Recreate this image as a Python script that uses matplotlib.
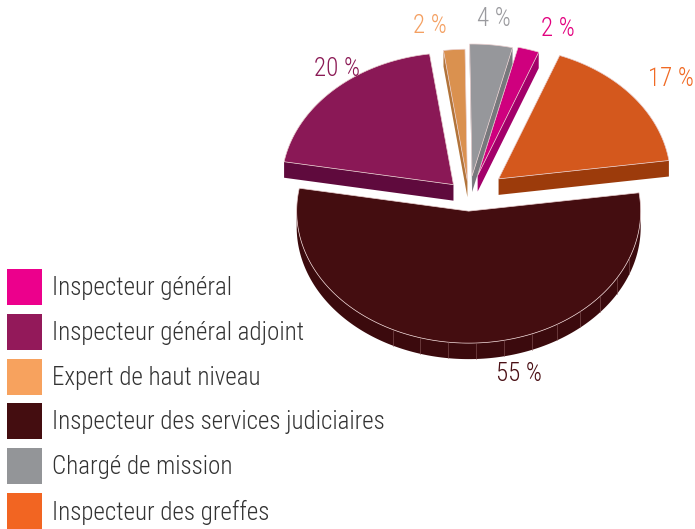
import numpy as np
import matplotlib.pyplot as plt
from matplotlib.patches import Polygon, Rectangle

plt.rcParams['font.family'] = ['Roboto Condensed', 'DejaVu Sans']
plt.rcParams['font.weight'] = 'light'

# data
labels = ['Inspecteur général', 'Inspecteur général adjoint', 'Expert de haut niveau',
          'Inspecteur des services judiciaires', 'Chargé de mission', 'Inspecteur des greffes']
shares = [2, 20, 2, 55, 4, 17]
pct_text = ['2 %', '20 %', '2 %', '55 %', '4 %', '17 %']
legend_colors = ['#EC008C', '#93195A', '#F7A25E', '#440D10', '#939598', '#F26522']
top_colors = ['#CF007E', '#8A1856', '#DA914F', '#440D10', '#96979B', '#D4581D']
side_colors = ['#A3006A', '#5F0A3D', '#B2743A', '#3B0A0D', '#77787C', '#9C3B0B']
label_colors = ['#E2007F', '#8B1A55', '#F4A062', '#4A1015', '#9A9A9E', '#F06A24']

# counterclockwise order around the pie
pie_order = [5, 0, 4, 2, 1, 3]
explode = {5: 0.22, 0: 0.17, 4: 0.16, 2: 0.12, 1: 0.13, 3: 0.107}
label_nudge = {5: (11, -1), 0: (19, 5), 4: (-1, 0), 2: (-22, 3), 1: (27, -2), 3: (54, 5)}

CX, CY = 469, 197
RX, RY = 172, 132
DEPTH = 16
START = 8.0

fig = plt.figure(figsize=(6.95, 5.29), dpi=100)
ax = fig.add_axes([0, 0, 1, 1])
ax.set_xlim(0, 695)
ax.set_ylim(529, 0)
ax.axis('off')


def pt(theta, r, off, z=0):
    t = np.radians(theta)
    return (CX + off[0] + r * RX * np.cos(t), CY + off[1] - r * RY * np.sin(t) + z)


def arc(a1, a2, off, z=0):
    ts = np.linspace(a1, a2, max(int(abs(a2 - a1)), 2) + 1)
    return [pt(t, 1, off, z) for t in ts]


bounds = START + np.concatenate([[0], np.cumsum([shares[i] for i in pie_order])]) * 3.6
slices = []
for k, i in enumerate(pie_order):
    a1, a2 = bounds[k], bounds[k + 1]
    mid = np.radians((a1 + a2) / 2)
    off = (explode[i] * RX * np.cos(mid), -explode[i] * RY * np.sin(mid))
    slices.append((i, a1, a2, off))

# back slices first, the big front slice last
slices.sort(key=lambda s: CY + s[3][1])

for i, a1, a2, off in slices:
    apex_t = pt(0, 0, off)
    apex_b = pt(0, 0, off, DEPTH)
    # radial cut faces
    if np.cos(np.radians(a1)) > 0:
        ax.add_patch(Polygon([apex_t, pt(a1, 1, off), pt(a1, 1, off, DEPTH), apex_b],
                             closed=True, fc=side_colors[i], ec='none'))
    if np.cos(np.radians(a2)) < 0:
        ax.add_patch(Polygon([apex_t, pt(a2, 1, off), pt(a2, 1, off, DEPTH), apex_b],
                             closed=True, fc=side_colors[i], ec='none'))
    # outer wall (front half only)
    lo, hi = max(a1, 180), min(a2, 360)
    if hi > lo:
        wall = arc(lo, hi, off) + arc(lo, hi, off, DEPTH)[::-1]
        ax.add_patch(Polygon(wall, closed=True, fc=side_colors[i], ec='none'))
        for t in np.arange(lo + 64, hi - 20, 9.5):
            x0, y0 = pt(t, 1, off)
            x1, y1 = pt(t, 1, off, DEPTH)
            ax.plot([x0, x1], [y0, y1], color='#8a5a5c', lw=0.4)
    top = [apex_t] + arc(a1, a2, off)
    ax.add_patch(Polygon(top, closed=True, fc=top_colors[i], ec='#e9cfcf', lw=0.5))

    mid = (a1 + a2) / 2
    lx, ly = pt(mid, 1.2, off)
    dx, dy = label_nudge[i]
    ax.text(lx + dx, ly + dy, pct_text[i], color=label_colors[i],
            fontsize=18, ha='center', va='center')

# legend
for j, name in enumerate(labels):
    y = 269 + j * 44.8
    ax.add_patch(Rectangle((7, y), 35, 36, fc=legend_colors[j], ec='none'))
    ax.text(52, y + 19, name, color='#333333', fontsize=18, ha='left', va='center')

fig.savefig('out.png', dpi=100)
